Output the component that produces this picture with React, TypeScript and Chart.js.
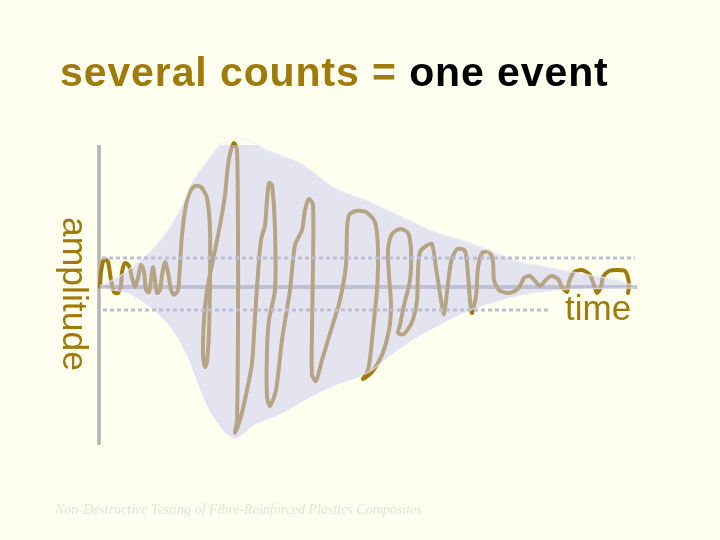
import React, { useEffect, useRef } from "react";
import { Chart, registerables } from "chart.js";

Chart.register(...registerables);

// ---- data (time units along the axis, amplitude units up/down from the time axis) ----
const waveTime = [
  1, 2, 5, 9, 12, 15, 19, 22, 23, 26, 30, 33, 36, 39, 42, 45, 47, 50, 52, 54, 56, 58, 61, 63, 66, 69, 72, 75, 79,
  81, 83, 87, 91, 96, 102, 108, 111, 111, 110, 108, 106, 104, 105, 108, 114, 121, 126, 129, 132, 135, 138, 139,
  139, 138, 136, 141, 147, 153, 156, 159, 162, 166, 168, 170, 173, 176, 176, 170, 168, 168, 171, 177, 183, 191,
  196, 203, 206, 210, 214, 214, 213, 213, 217, 223, 233, 241, 247, 248, 250, 257, 267, 276, 279, 278, 275, 272,
  269, 264, 273, 283, 290, 292, 290, 289, 293, 301, 309, 312, 311, 305, 301, 299, 305, 313, 318, 319, 321, 327,
  333, 337, 342, 345, 348, 352, 358, 366, 369, 371, 373, 377, 379, 383, 390, 394, 395, 400, 408, 416, 421, 425,
  431, 436, 441, 446, 452, 459, 463, 468, 470, 475, 483, 491, 495, 498, 502, 504, 510, 518, 526, 529, 530, 529,
];
const waveAmp = [
  0, 15, 28, 25, 7, -5, -6, 2, 15, 24, 21, 9, 0, 9, 22, 15, -3, -5, 7, 20, 7, -6, -3, 12, 25, 15, -3, -8, -3,
  22, 52, 82, 95, 101, 100, 89, 57, 7, -43, -75, -80, -68, -33, -3, 27, 62, 92, 122, 137, 144, 137, 57,
  -43, -133, -146, -133, -108, -76, -30, 14, 47, 62, 87, 104, 102, 57, -3, -33, -63, -110, -119, -103, -53, -3,
  42, 57, 77, 88, 82, 24, -43, -88, -94, -73, -40, -13, 22, 57, 72, 76, 75, 65, 37, -3, -33, -63,
  -83, -92, -85, -68, -43, -18, 12, 37, 53, 58, 54, 37, 7, -18, -38, -46, -47, -35, -13, 17, 35, 41,
  43, 19, -13, -27, -5, 25, 38, 36, 12, -13, -26, -9, 19, 34, 35, 25, 7, -3, -6, -4, 1, 9,
  11, 6, 1, 6, 11, 8, 0, -5, 5, 15, 17, 12, 2, -6, 0, 10, 16, 17, 16, 9, 1, -6,
];

const envelopeTopTime = [1, 21, 39, 53, 69, 83, 91, 98, 109, 119, 128, 138, 153, 168, 201, 236, 269, 303, 336, 366, 394, 421, 448, 478, 508, 537];
const envelopeTopAmp = [1, 11, 25, 37, 57, 81, 101, 112, 127, 140, 146, 149, 145, 137, 124, 99, 86, 70, 55, 46, 35, 25, 20, 14, 9, 1];
const envelopeBottomTime = [1, 29, 46, 63, 76, 89, 99, 109, 119, 127, 136, 146, 156, 183, 209, 236, 256, 273, 289, 313, 336, 353, 371, 401, 421, 448, 474, 537];
const envelopeBottomAmp = [-1, -6, -16, -30, -46, -70, -96, -120, -136, -146, -151, -145, -137, -126, -111, -98, -91, -83, -70, -53, -40, -31, -23, -13, -8, -4, -2, -1];

const upperThreshold = 29;
const lowerThreshold = -23;
const upperThresholdTimes = [3, 536];
const lowerThresholdTimes = [4, 451];
const timeAxisRange = [0, 538];
const amplitudeAxisRange = [-158, 142];

const titleParts = ["several counts = ", "one event"];
const yLabel = "amplitude";
const xLabel = "time";
const footer = "Non-Destructive Testing of Fibre-Reinforced Plastics Composites";

const zip = (xs: number[], ys: number[]) => xs.map((x, i) => ({ x, y: ys[i] }));

const GOLD = "#9F7B0B";
const BG = "#FFFFEF";

export default function App() {
  const canvasRef = useRef<HTMLCanvasElement | null>(null);

  useEffect(() => {
    const canvas = canvasRef.current;
    if (!canvas) return;
    const chart = new Chart(canvas, {
      type: "line",
      data: {
        datasets: [
          {
            label: "upper threshold",
            data: upperThresholdTimes.map((t) => ({ x: t, y: upperThreshold })),
            borderColor: "#BEBED3",
            borderWidth: 3,
            borderDash: [4, 3],
            pointRadius: 0,
            fill: false,
            clip: false,
          } as any,
          {
            label: "lower threshold",
            data: lowerThresholdTimes.map((t) => ({ x: t, y: lowerThreshold })),
            borderColor: "#BEBED3",
            borderWidth: 3,
            borderDash: [4, 3],
            pointRadius: 0,
            fill: false,
            clip: false,
          },
          {
            label: "envelope top",
            data: zip(envelopeTopTime, envelopeTopAmp),
            borderColor: "rgba(238,238,246,0.7)",
            borderWidth: 1.5,
            backgroundColor: "rgba(203,203,244,0.52)",
            fill: "+1",
            tension: 0.3,
            pointRadius: 0,
            clip: false,
          },
          {
            label: "envelope bottom",
            data: zip(envelopeBottomTime, envelopeBottomAmp),
            borderColor: "rgba(238,238,246,0.7)",
            borderWidth: 1.5,
            fill: false,
            tension: 0.3,
            pointRadius: 0,
            clip: false,
          },
          {
            label: "signal",
            data: zip(waveTime, waveAmp),
            borderColor: GOLD,
            borderWidth: 4,
            borderCapStyle: "round",
            borderJoinStyle: "round",
            tension: 0.25,
            pointRadius: 0,
            fill: false,
            clip: false,
          },
          {
            label: "time axis",
            data: timeAxisRange.map((t) => ({ x: t, y: 0 })),
            borderColor: "#B4B4B4",
            borderWidth: 4,
            pointRadius: 0,
            fill: false,
            clip: false,
          },
          {
            label: "amplitude axis",
            data: amplitudeAxisRange.map((a) => ({ x: 0, y: a })),
            borderColor: "#B4B4B4",
            borderWidth: 3.5,
            pointRadius: 0,
            fill: false,
            clip: false,
          },
        ],
      },
      options: {
        responsive: false,
        maintainAspectRatio: false,
        devicePixelRatio: 1,
        animation: false,
        events: [],
        layout: { padding: { left: 99, right: 83, top: 145, bottom: 95 } },
        plugins: {
          legend: { display: false },
          tooltip: { enabled: false },
          title: { display: false },
          filler: { propagate: false, drawTime: "beforeDatasetDraw" },
        },
        scales: {
          x: { type: "linear", min: timeAxisRange[0], max: timeAxisRange[1], display: false },
          y: { type: "linear", min: amplitudeAxisRange[0], max: amplitudeAxisRange[1], display: false },
        },
      },
    });
    return () => chart.destroy();
  }, []);

  return (
    <div
      style={{
        position: "fixed",
        left: 0,
        top: 0,
        width: 720,
        height: 540,
        background: BG,
        overflow: "hidden",
      }}
    >
      <canvas ref={canvasRef} width={720} height={540} style={{ position: "absolute", left: 0, top: 0, display: "block" }} />
      <div
        style={{
          position: "absolute",
          left: 60,
          top: 52,
          fontFamily: "'Liberation Sans', Arial, sans-serif",
          fontWeight: "bold",
          fontSize: 41,
          lineHeight: 1,
          letterSpacing: 0.9,
          whiteSpace: "pre",
        }}
      >
        <span style={{ color: GOLD }}>{titleParts[0]}</span>
        <span style={{ color: "#000000" }}>{titleParts[1]}</span>
      </div>
      <div
        style={{
          position: "absolute",
          left: 92,
          top: 217,
          transform: "rotate(90deg)",
          transformOrigin: "0 0",
          fontFamily: "'Liberation Sans', Arial, sans-serif",
          fontSize: 35.5,
          lineHeight: 1,
          color: GOLD,
          whiteSpace: "nowrap",
        }}
      >
        {yLabel}
      </div>
      <div
        style={{
          position: "absolute",
          left: 565,
          top: 290,
          fontFamily: "'Liberation Sans', Arial, sans-serif",
          fontSize: 35,
          lineHeight: 1,
          color: GOLD,
          whiteSpace: "nowrap",
        }}
      >
        {xLabel}
      </div>
      <div
        style={{
          position: "absolute",
          left: 55,
          top: 503,
          fontFamily: "'Liberation Serif', 'Times New Roman', serif",
          fontStyle: "italic",
          fontSize: 14,
          lineHeight: 1,
          color: "#E4E4D6",
          whiteSpace: "nowrap",
        }}
      >
        {footer}
      </div>
    </div>
  );
}
